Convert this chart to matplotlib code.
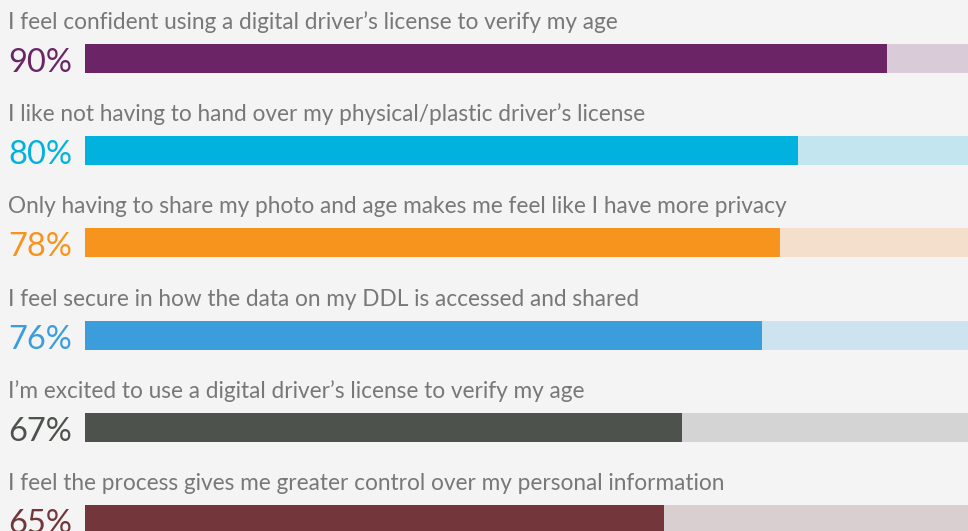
import matplotlib
matplotlib.use("Agg")
import matplotlib.pyplot as plt
import matplotlib.transforms as mtransforms

# ---- data ----
statements = [
    "I feel confident using a digital driver\u2019s license to verify my age",
    "I like not having to hand over my physical/plastic driver\u2019s license",
    "Only having to share my photo and age makes me feel like I have more privacy",
    "I feel secure in how the data on my DDL is accessed and shared",
    "I\u2019m excited to use a digital driver\u2019s license to verify my age",
    "I feel the process gives me greater control over my personal information",
]
values = [90, 80, 78, 76, 67, 65]
bar_colors = ["#6b2566", "#00b2dd", "#f7941e", "#3b9ddc", "#4d524c", "#72363b"]
track_colors = ["#d9ccd8", "#c3e5ef", "#f4dfcc", "#cde3f0", "#d4d4d4", "#d9cfd0"]

bg = "#f4f4f4"
label_color = "#787878"
plt.rcParams["font.family"] = ["Lato", "DejaVu Sans"]

W, H = 968, 531
fig = plt.figure(figsize=(W / 100, H / 100), dpi=100, facecolor=bg)

# axes start where the bars start, the 100% track runs past the right edge
ax = fig.add_axes([85 / W, 0, 891 / W, 1])
ax.set_facecolor(bg)
ax.set_xlim(0, 100)
row = 92.2
ax.set_ylim(5 + (H - 519.5) / row, -58.5 / row)
ax.axis("off")

ys = list(range(len(values)))
bh = 29 / row
ax.barh(ys, [100] * len(values), height=bh, color=track_colors, linewidth=0)
ax.barh(ys, values, height=bh, color=bar_colors, linewidth=0)

trans = mtransforms.blended_transform_factory(fig.transFigure, ax.transData)
x0 = 8 / W
for y, s, v, c in zip(ys, statements, values, bar_colors):
    ax.text(x0, y - 29.5 / row, s, transform=trans, fontsize=16.3, color=label_color,
            va="baseline", ha="left")
    ax.text(x0, y + 13.5 / row, f"{v}%", transform=trans, fontsize=23.5, color=c,
            va="baseline", ha="left")

fig.savefig("out.png", dpi=100, facecolor=bg)
